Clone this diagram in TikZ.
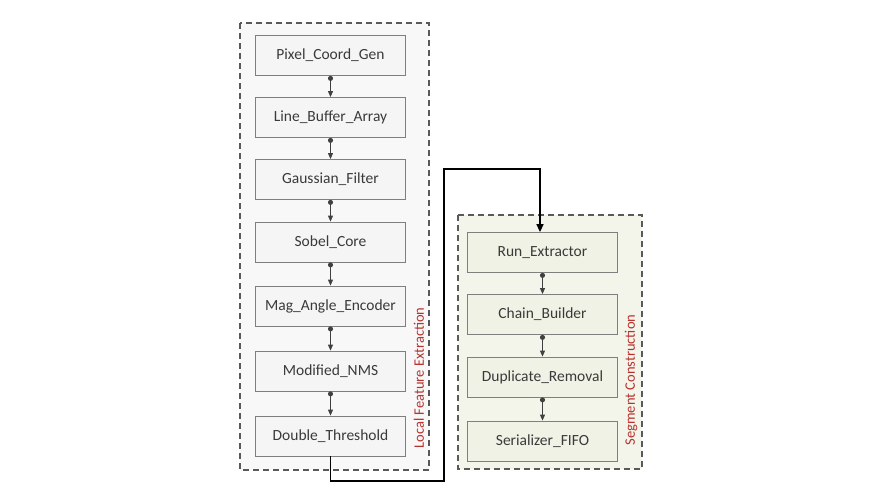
\documentclass[tikz,border=0pt]{standalone}
\usepackage{fontspec}
\setmainfont{Carlito}
\usetikzlibrary{arrows.meta,positioning}
\definecolor{grpL}{HTML}{F8F8F8}
\definecolor{grpR}{HTML}{F3F5EA}
\definecolor{nodeL}{HTML}{F5F5F5}
\definecolor{nodeR}{HTML}{EFF2E4}
\definecolor{lbl}{HTML}{B8322F}
\definecolor{edge}{HTML}{7F7F7F}
\definecolor{grpline}{HTML}{595959}
\definecolor{txt}{HTML}{3A3A3A}
\tikzset{
  blk/.style={draw=edge, line width=0.8pt, minimum width=150pt, minimum height=40pt, inner sep=0pt, font=\fontsize{15.5}{17}\selectfont, text=txt},
  blkL/.style={blk, fill=nodeL},
  blkR/.style={blk, fill=nodeR},
  grp/.style={draw=grpline, line width=1.1pt, dash pattern=on 6pt off 4pt},
  link/.style={draw=black!75, line width=0.9pt, {Circle[length=5pt]}-{Triangle[length=6pt,width=5pt]}},
  main/.style={draw=black, line width=1.4pt, -{Triangle[length=8pt,width=7pt]}},
  grplabel/.style={rotate=90, text=lbl, font=\fontsize{14.5}{16}\selectfont}
}
\begin{document}
\begin{tikzpicture}[x=1pt,y=-1pt]
\useasboundingbox[fill=white] (0,0) rectangle (876,493);
% groups
\path[grp, fill=grpL] (240,23) rectangle (429,470);
\path[grp, fill=grpR] (458,215) rectangle (642,469);
% left nodes
\node[blkL] (pcg) at (330.5,55.5) {Pixel\_Coord\_Gen};
\node[blkL] (lba) at (330.5,117.5) {Line\_Buffer\_Array};
\node[blkL] (gf) at (330.5,179.5) {Gaussian\_Filter};
\node[blkL] (sc) at (330.5,242) {Sobel\_Core};
\node[blkL] (mae) at (330.5,306) {Mag\_Angle\_Encoder};
\node[blkL] (nms) at (330.5,371) {Modified\_NMS};
\node[blkL] (dt) at (330.5,436) {Double\_Threshold};
% right nodes
\node[blkR] (re) at (542.5,252.5) {Run\_Extractor};
\node[blkR] (cb) at (542.5,314.5) {Chain\_Builder};
\node[blkR] (dr) at (542.5,377) {Duplicate\_Removal};
\node[blkR] (sf) at (542.5,441) {Serializer\_FIFO};
% labels
\node[grplabel] (lfe) at (419,378) {Local Feature Extraction};
\node[grplabel] (scn) at (631,380) {Segment Construction};
% links
\draw[link] (pcg.south) -- (lba.north);
\draw[link] (lba.south) -- (gf.north);
\draw[link] (gf.south) -- (sc.north);
\draw[link] (sc.south) -- (mae.north);
\draw[link] (mae.south) -- (nms.north);
\draw[link] (nms.south) -- (dt.north);
\draw[link] (re.south) -- (cb.north);
\draw[link] (cb.south) -- (dr.north);
\draw[link] (dr.south) -- (sf.north);
% main connector
\coordinate (c1) at (330.5,481);
\coordinate (c2) at (444,481);
\coordinate (c3) at (444,169);
\coordinate (c4) at (540,169);
\draw[main] (dt.south) -- (c1) -- (c2) -- (c3) -- (c4) -- (c4 |- re.north);
\end{tikzpicture}
\end{document}
